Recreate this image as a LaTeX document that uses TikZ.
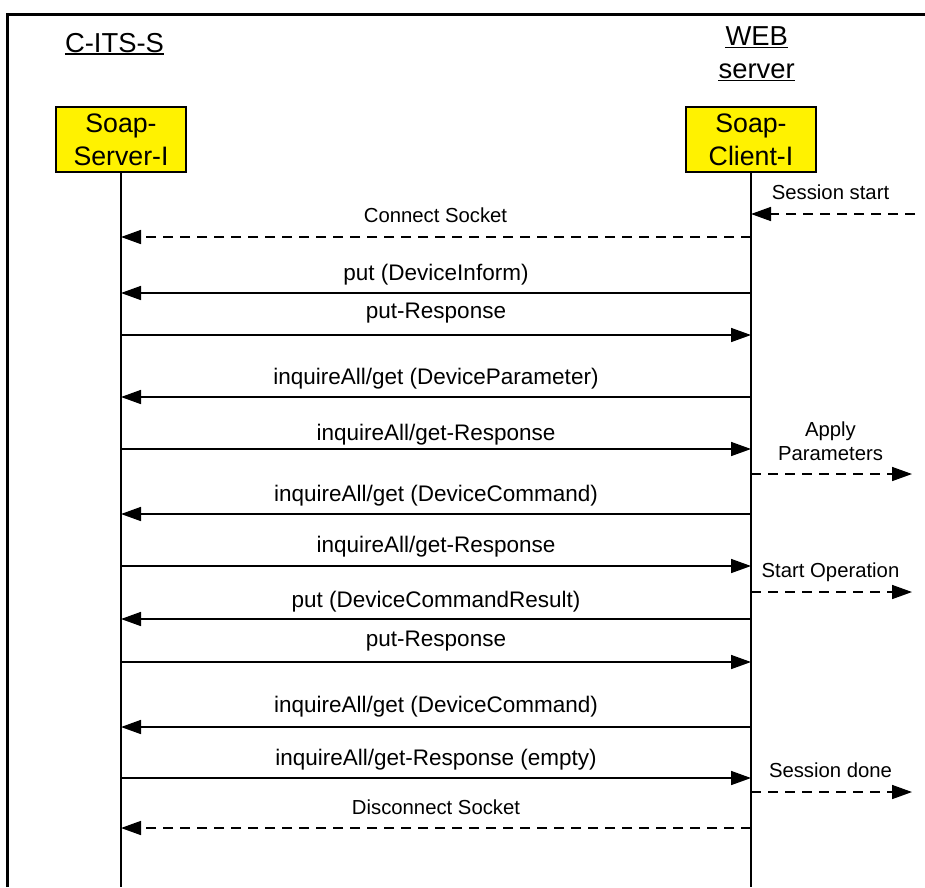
\documentclass[tikz,border=0pt]{standalone}
\usepackage{fontspec}
\setmainfont{Liberation Sans}
\usetikzlibrary{arrows.meta}

\tikzset{
  msg/.style={line width=1.6pt, -{Triangle[length=20pt,width=14pt]}},
  async/.style={msg, dash pattern=on 10pt off 7pt},
  lbl/.style={anchor=base, font=\fontsize{22.5}{27}\selectfont, inner sep=0pt},
  note/.style={anchor=base, font=\fontsize{20.3}{24}\selectfont, inner sep=0pt},
  actor/.style={draw, line width=1.5pt, fill=yellow, minimum width=130pt,
    minimum height=65pt, align=center, inner sep=0pt,
    font=\fontsize{26.7}{33.3}\selectfont},
  title/.style={anchor=base, font=\fontsize{27.4}{33}\selectfont, inner sep=0pt},
  uline/.style={line width=1.6pt},
  life/.style={line width=1.6pt},
  frame/.style={line width=3pt},
}

% points on the two lifelines at a given height
\newcommand\msgpts[2]{%
  \coordinate (s#1) at (srv.south |- 0,#2);
  \coordinate (c#1) at (cli.south |- 0,#2);}

\begin{document}
\begin{tikzpicture}[x=1pt,y=-1pt]
\useasboundingbox (0,0) rectangle (925,887);

% outer frame (open at the right and bottom)
\draw[frame] (7.5,887) -- (7.5,14) -- (925,14);

% station titles
\node[title] (tcits) at (114.5,52) {C-ITS-S};
\draw[uline] ([yshift=-2pt]tcits.base west) -- ([yshift=-2pt]tcits.base east);
\node[title] (tweb) at (756.8,45) {WEB};
\draw[uline] ([yshift=-2.5pt]tweb.base west) -- ([yshift=-2.5pt]tweb.base east);
\node[title] (tsrv) at (756.7,78) {server};
\draw[uline] ([yshift=-2.5pt]tsrv.base west) -- ([yshift=-2.5pt]tsrv.base east);

% participants
\node[actor] (srv) at (121,139.5) {Soap-\\Server-I};
\node[actor] (cli) at (751,139.5) {Soap-\\Client-I};

% lifelines
\coordinate (srvEnd) at (srv.south |- 0,887);
\coordinate (cliEnd) at (cli.south |- 0,887);
\draw[life] (srv.south) -- (srvEnd);
\draw[life] (cli.south) -- (cliEnd);

% message heights
\msgpts{1}{237}
\msgpts{2}{293}
\msgpts{3}{335}
\msgpts{4}{397}
\msgpts{5}{449}
\msgpts{6}{514}
\msgpts{7}{566}
\msgpts{8}{619}
\msgpts{9}{662}
\msgpts{10}{727}
\msgpts{11}{778}
\msgpts{12}{828}

% messages
\draw[async] (c1) -- (s1);
\node[note] (m1) at (435.5,222) {Connect Socket};
\draw[msg] (c2) -- (s2);
\node[lbl] (m2) at (436,280) {put (DeviceInform)};
\draw[msg] (s3) -- (c3);
\node[lbl] (m3) at (436,318) {put-Response};
\draw[msg] (c4) -- (s4);
\node[lbl] (m4) at (436,384) {inquireAll/get (DeviceParameter)};
\draw[msg] (s5) -- (c5);
\node[lbl] (m5) at (436,440) {inquireAll/get-Response};
\draw[msg] (c6) -- (s6);
\node[lbl] (m6) at (436,501) {inquireAll/get (DeviceCommand)};
\draw[msg] (s7) -- (c7);
\node[lbl] (m7) at (436,552) {inquireAll/get-Response};
\draw[msg] (c8) -- (s8);
\node[lbl] (m8) at (436,607) {put (DeviceCommandResult)};
\draw[msg] (s9) -- (c9);
\node[lbl] (m9) at (436,646) {put-Response};
\draw[msg] (c10) -- (s10);
\node[lbl] (m10) at (436,712) {inquireAll/get (DeviceCommand)};
\draw[msg] (s11) -- (c11);
\node[lbl] (m11) at (436,765) {inquireAll/get-Response (empty)};
\draw[async] (c12) -- (s12);
\node[note] (m12) at (436,814) {Disconnect Socket};

% external events on the client side
\coordinate (startIn) at (915,214);
\coordinate (startAt) at (cli.south |- 0,214);
\draw[async] (startIn) -- (startAt);
\node[note] (n1) at (830.5,199) {Session start};

\coordinate (applyAt) at (cli.south |- 0,474);
\coordinate (applyOut) at (912,474);
\draw[async] (applyAt) -- (applyOut);
\node[note] (n2a) at (830.5,436) {Apply};
\node[note] (n2b) at (830.5,460) {Parameters};

\coordinate (opAt) at (cli.south |- 0,592);
\coordinate (opOut) at (912,592);
\draw[async] (opAt) -- (opOut);
\node[note] (n3) at (830.5,577) {Start Operation};

\coordinate (doneAt) at (cli.south |- 0,792);
\coordinate (doneOut) at (912,792);
\draw[async] (doneAt) -- (doneOut);
\node[note] (n4) at (830.5,777) {Session done};
\end{tikzpicture}
\end{document}
